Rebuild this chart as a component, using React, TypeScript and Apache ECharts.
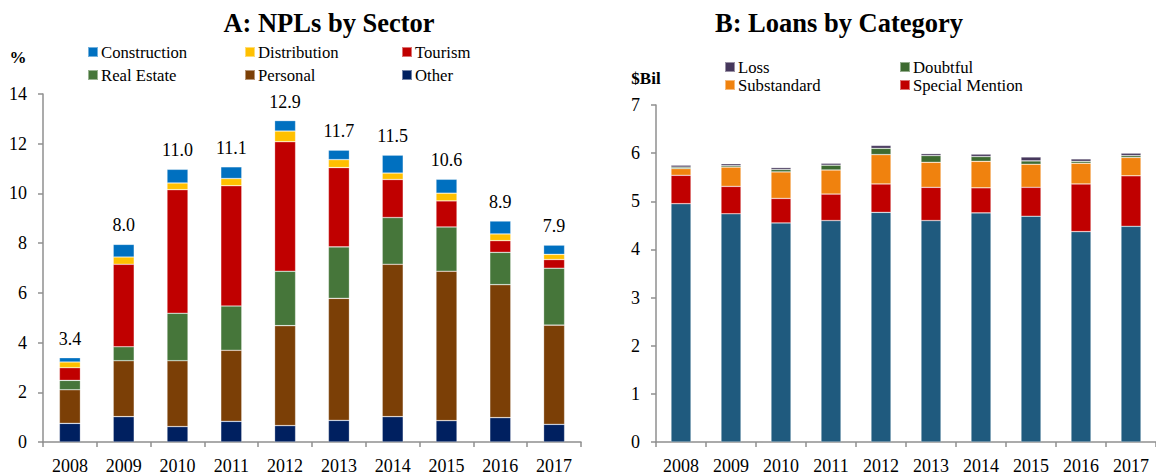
import React, { useEffect, useRef } from "react";
import * as echarts from "echarts";

const years = ["2008", "2009", "2010", "2011", "2012", "2013", "2014", "2015", "2016", "2017"];

// Panel A: NPLs by sector (%)
const other = [0.75, 1.02, 0.62, 0.83, 0.66, 0.87, 1.02, 0.86, 0.98, 0.71];
const personal = [1.35, 2.25, 2.65, 2.86, 4.02, 4.91, 6.13, 6.01, 5.35, 3.99];
const realEstate = [0.38, 0.56, 1.91, 1.78, 2.19, 2.07, 1.88, 1.78, 1.3, 2.29];
const tourism = [0.51, 3.32, 4.97, 4.84, 5.21, 3.19, 1.53, 1.05, 0.47, 0.35];
const distribution = [0.23, 0.29, 0.27, 0.29, 0.43, 0.32, 0.26, 0.31, 0.27, 0.21];
const construction = [0.17, 0.51, 0.55, 0.47, 0.42, 0.38, 0.72, 0.56, 0.52, 0.37];
const totals = ["3.4", "8.0", "11.0", "11.1", "12.9", "11.7", "11.5", "10.6", "8.9", "7.9"];

// Panel B: Loans by category ($Bil)
const pass = [4.95, 4.74, 4.55, 4.6, 4.77, 4.6, 4.76, 4.69, 4.37, 4.48];
const specialMention = [0.59, 0.57, 0.51, 0.55, 0.59, 0.69, 0.52, 0.6, 0.99, 1.05];
const substandard = [0.14, 0.4, 0.55, 0.5, 0.61, 0.52, 0.55, 0.48, 0.43, 0.38];
const doubtful = [0.03, 0.03, 0.05, 0.1, 0.13, 0.14, 0.1, 0.07, 0.04, 0.04];
const loss = [0.04, 0.04, 0.04, 0.04, 0.06, 0.04, 0.05, 0.08, 0.05, 0.05];

const FONT = "'Times New Roman', 'Liberation Serif', serif";
const AXIS_COLOR = "#8f8f8f";

export default function App() {
  const ref = useRef<HTMLDivElement>(null);
  useEffect(() => {
    if (!ref.current) return;
    const chart = echarts.init(ref.current, null, { renderer: "svg" });

    const axisCommon = {
      axisLine: { show: true, lineStyle: { color: AXIS_COLOR, width: 1.5 } },
      axisTick: { show: true, length: 5, lineStyle: { color: AXIS_COLOR, width: 1.5 } },
      splitLine: { show: false },
    };
    const xLabel = { fontFamily: FONT, fontSize: 18, color: "#000", margin: 15 };
    const yLabel = { fontFamily: FONT, fontSize: 18, color: "#000", margin: 16 };

    const barBorder = { borderColor: "rgba(255,255,255,0.45)", borderWidth: 0.6 };

    const leftSeries = [
      { name: "Other", data: other, color: "#002060" },
      { name: "Personal", data: personal, color: "#7B3F06" },
      { name: "Real Estate", data: realEstate, color: "#46763A" },
      { name: "Tourism", data: tourism, color: "#C00000" },
      { name: "Distribution", data: distribution, color: "#FFC000" },
      { name: "Construction", data: construction, color: "#0070C0" },
    ].map((s, i, arr) => ({
      type: "bar",
      name: s.name,
      data: s.data,
      stack: "A",
      xAxisIndex: 0,
      yAxisIndex: 0,
      barWidth: 21,
      itemStyle: { color: s.color, ...barBorder },
      label:
        i === arr.length - 1
          ? {
              show: true,
              position: "top",
              distance: 10,
              fontFamily: FONT,
              fontSize: 18,
              color: "#000",
              formatter: (p: any) => totals[p.dataIndex],
            }
          : { show: false },
    }));

    const rightSeries = [
      { name: "Pass", data: pass, color: "#1F5A7E" },
      { name: "Special Mention", data: specialMention, color: "#C00000" },
      { name: "Substandard", data: substandard, color: "#F0820E" },
      { name: "Doubtful", data: doubtful, color: "#3D6A30" },
      { name: "Loss", data: loss, color: "#46375C" },
    ].map((s) => ({
      type: "bar",
      name: s.name,
      data: s.data,
      stack: "B",
      xAxisIndex: 1,
      yAxisIndex: 1,
      barWidth: 20,
      itemStyle: { color: s.color, ...barBorder },
    }));

    const legendItem = (name: string, left: number, top: number) => ({
      data: [name],
      left,
      top,
      padding: 0,
      itemWidth: 10,
      itemHeight: 10,
      itemGap: 0,
      icon: "rect",
      textStyle: { fontFamily: FONT, fontSize: 16.7, color: "#000", padding: [0, 0, 0, -2], lineHeight: 20 },
      selectedMode: false,
    });

    chart.setOption({
      animation: false,
      textStyle: { fontFamily: FONT },
      grid: [
        { left: 43, top: 94, width: 538, bottom: 33 },
        { left: 656, top: 105, width: 506, bottom: 31 },
      ],
      xAxis: [
        { type: "category", data: years, gridIndex: 0, ...axisCommon, axisLabel: xLabel },
        { type: "category", data: years, gridIndex: 1, ...axisCommon, axisLabel: xLabel },
      ],
      yAxis: [
        { type: "value", gridIndex: 0, min: 0, max: 14, interval: 2, ...axisCommon, axisLabel: yLabel },
        { type: "value", gridIndex: 1, min: 0, max: 7, interval: 1, ...axisCommon, axisLabel: yLabel },
      ],
      legend: [
        legendItem("Construction", 87, 42),
        legendItem("Distribution", 244, 42),
        legendItem("Tourism", 401, 42),
        legendItem("Real Estate", 87, 65),
        legendItem("Personal", 244, 65),
        legendItem("Other", 401, 65),
        legendItem("Loss", 724, 57),
        legendItem("Doubtful", 899, 57),
        legendItem("Substandard", 724, 75),
        legendItem("Special Mention", 899, 75),
      ],
      graphic: [
        {
          type: "text",
          x: 329,
          y: 23,
          style: {
            text: "A: NPLs by Sector",
            fontFamily: FONT,
            fontSize: 26.5,
            fontWeight: "bold",
            fill: "#000",
            textAlign: "center",
            textVerticalAlign: "middle",
          },
        },
        {
          type: "text",
          x: 839,
          y: 23,
          style: {
            text: "B: Loans by Category",
            fontFamily: FONT,
            fontSize: 26.5,
            fontWeight: "bold",
            fill: "#000",
            textAlign: "center",
            textVerticalAlign: "middle",
          },
        },
        {
          type: "text",
          x: 18,
          y: 57,
          style: {
            text: "%",
            fontFamily: FONT,
            fontSize: 17,
            fontWeight: "bold",
            fill: "#000",
            textAlign: "center",
            textVerticalAlign: "middle",
          },
        },
        {
          type: "text",
          x: 646,
          y: 78,
          style: {
            text: "$Bil",
            fontFamily: FONT,
            fontSize: 17,
            fontWeight: "bold",
            fill: "#000",
            textAlign: "center",
            textVerticalAlign: "middle",
          },
        },
      ],
      series: [...leftSeries, ...rightSeries],
    });
    return () => chart.dispose();
  }, []);
  return (
    <div
      ref={ref}
      style={{ position: "fixed", left: 0, top: 0, width: 1156, height: 475, background: "#fff" }}
    />
  );
}
